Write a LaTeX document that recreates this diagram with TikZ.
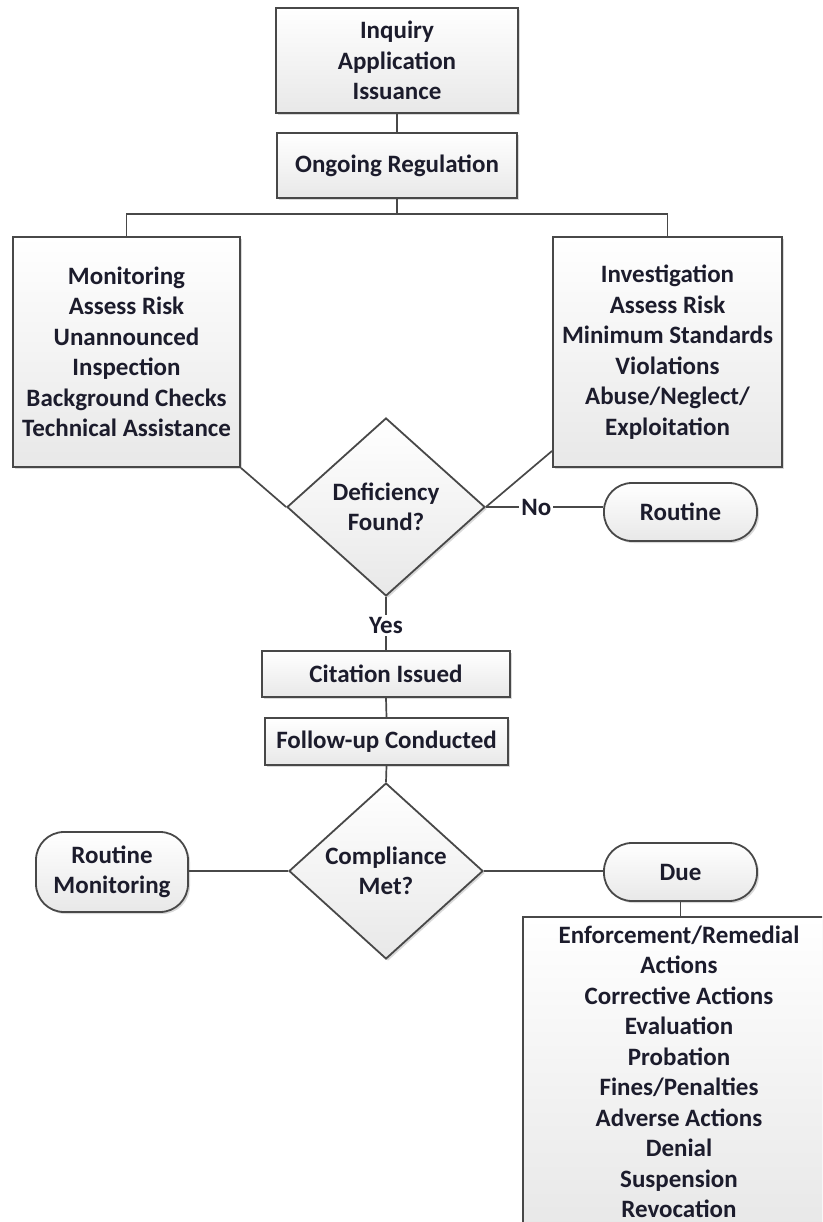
\documentclass[tikz,border=0pt]{standalone}
\usepackage{fontspec}
\setmainfont{Carlito}
\usetikzlibrary{shapes.geometric,shadows,calc}
\definecolor{edge}{HTML}{484848}
\definecolor{txt}{HTML}{1C1C2C}
\definecolor{fillbot}{HTML}{E8E8E8}
\tikzset{
  base/.style={draw=edge, line width=1.8pt, top color=white, bottom color=fillbot,
    text=txt, font=\fontsize{25}{30.5}\selectfont\bfseries, align=center, inner sep=0pt,
    drop shadow={shadow xshift=2pt, shadow yshift=-2pt, opacity=0.3, fill=gray}},
  box/.style={base, rectangle},
  decision/.style={base, diamond, aspect=1.1},
  term/.style={base, rectangle, rounded corners=28pt},
  conn/.style={draw=edge, line width=1.7pt},
  lbl/.style={fill=white, text=txt, font=\fontsize{25}{30.5}\selectfont\bfseries, inner sep=2pt}
}
\begin{document}
\begin{tikzpicture}[x=1pt,y=-1pt]
\useasboundingbox (0,0) rectangle (822,1222);
\clip (0,0) rectangle (822,1222);
\node[box, minimum width=242, minimum height=105] (top) at (397,60.5) {Inquiry\\Application\\Issuance};
\node[box, minimum width=240, minimum height=65] (ong) at (397,165.5) {Ongoing Regulation};
\node[box, minimum width=227, minimum height=230] (mon) at (126.5,352) {Monitoring\\Assess Risk\\Unannounced\\Inspection\\Background Checks\\Technical Assistance};
\node[box, minimum width=229, minimum height=230] (inv) at (667.5,352) {Investigation\\Assess Risk\\Minimum Standards\\Violations\\Abuse/Neglect/\\Exploitation};
\node[decision, minimum width=198, minimum height=178] (def) at (386,507) {Deficiency\\Found?};
\node[term, minimum width=153, minimum height=58] (rout) at (680.5,512) {Routine};
\node[box, minimum width=248, minimum height=46] (cit) at (386,674) {Citation Issued};
\node[box, minimum width=243, minimum height=47] (fol) at (386.5,741.5) {Follow-up Conducted};
\node[decision, minimum width=194, minimum height=176] (comp) at (386,871) {Compliance\\Met?};
\node[term, minimum width=152, minimum height=80] (rm) at (112,872) {Routine\\Monitoring};
\node[term, minimum width=153, minimum height=58] (due) at (680.5,872) {Due};
\node[box, minimum width=312, minimum height=310] (enf) at (679,1072) {Enforcement/Remedial\\Actions\\Corrective Actions\\Evaluation\\Probation\\Fines/Penalties\\Adverse Actions\\Denial\\Suspension\\Revocation};

\draw[conn] (top.south) -- (ong.north);
\draw[conn] (ong.south) -- ++(0,15) coordinate (split);
\draw[conn] (mon.north) |- (split) -| (inv.north);
\draw[conn] (mon.south east) -- (def.west);
\draw[conn] ($(inv.south west)+(0,-17)$) -- (def.east);
\draw[conn] (def.east) -- node[lbl, pos=0.43]{No} (def.east -| rout.west);
\draw[conn] (def.south) -- node[lbl, pos=0.54]{Yes} (cit.north);
\draw[conn] (cit.south) -- (fol.north);
\draw[conn] (fol.south) -- (comp.north);
\draw[conn] (comp.west) -- (comp.west -| rm.east);
\draw[conn] (comp.east) -- (comp.east -| due.west);
\draw[conn] (due.south) -- (due.south |- enf.north);
\end{tikzpicture}
\end{document}
